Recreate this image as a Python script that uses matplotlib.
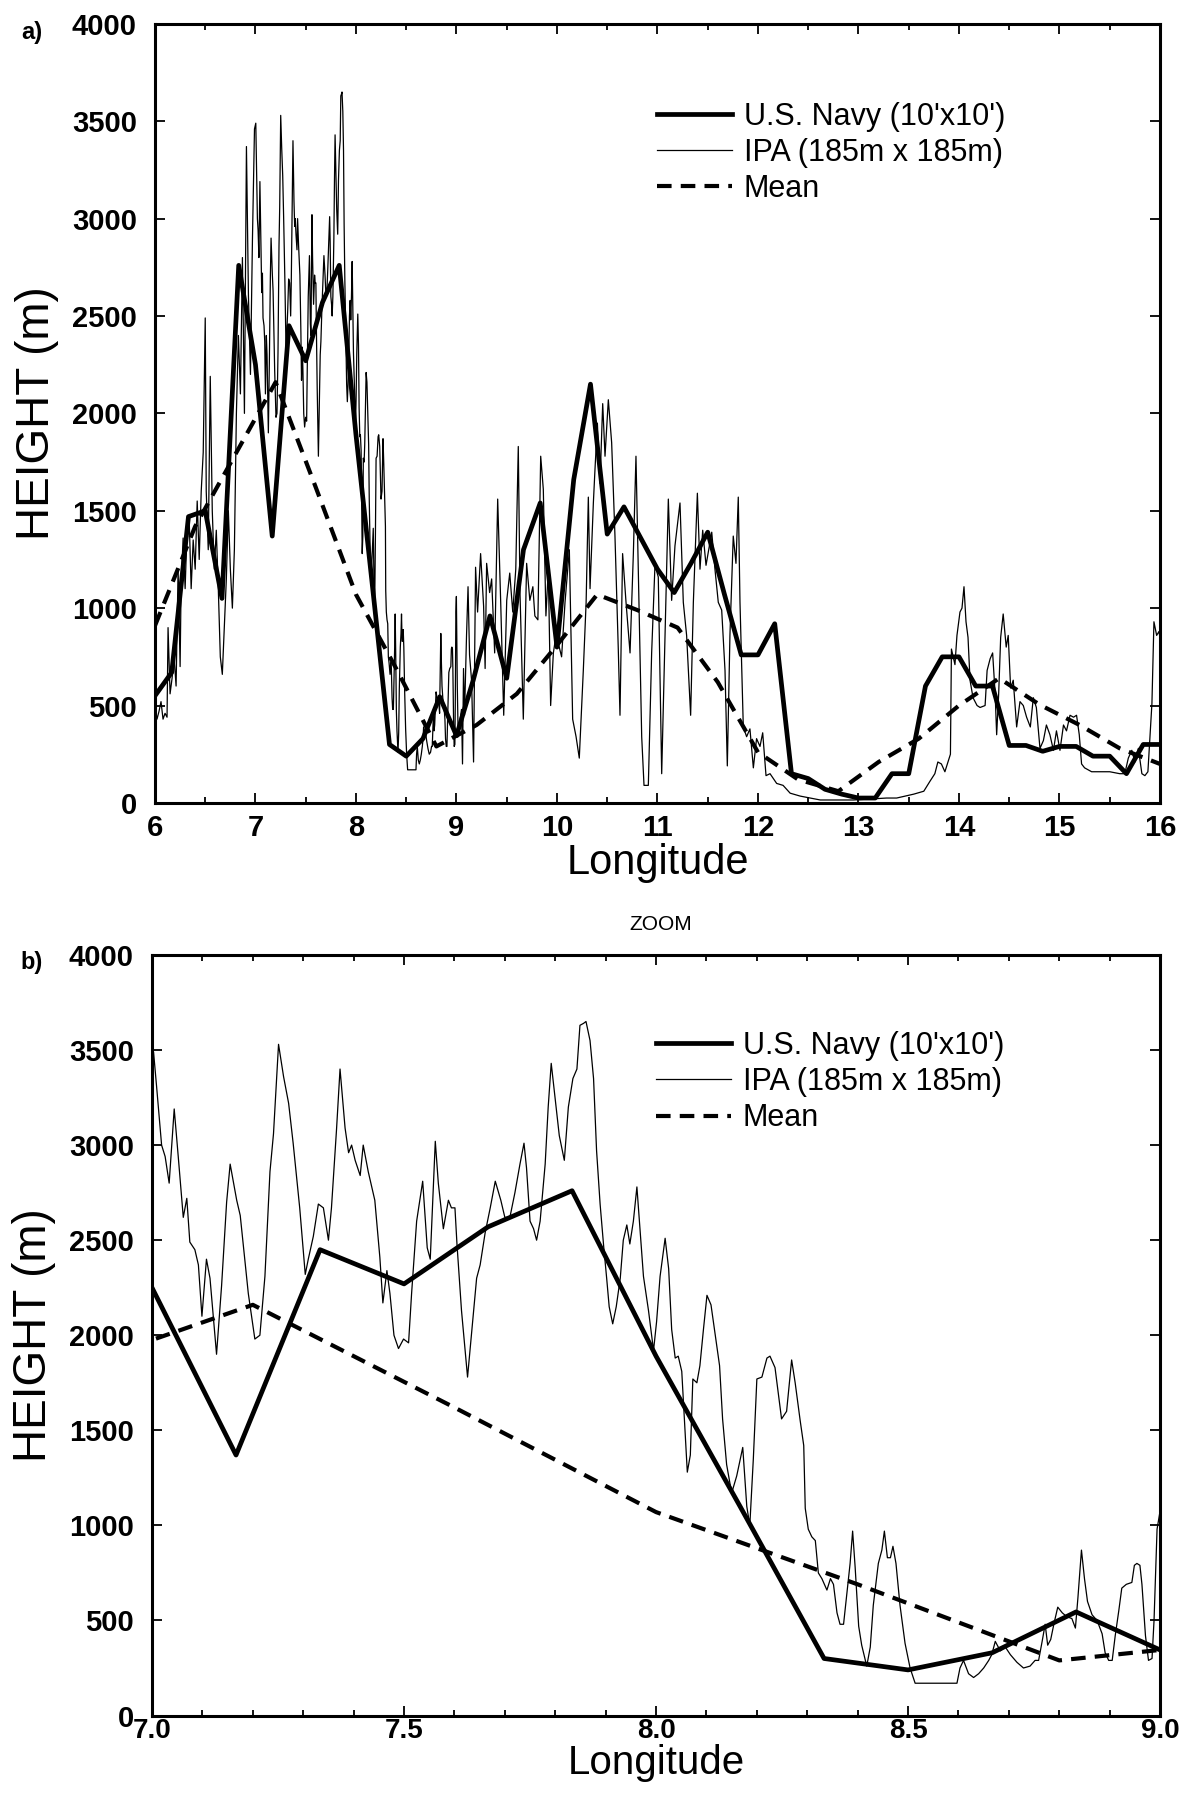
import numpy as np
import matplotlib
matplotlib.use("Agg")
import matplotlib.pyplot as plt
from matplotlib.ticker import MultipleLocator

plt.rcParams['font.family'] = ['Liberation Sans', 'DejaVu Sans']

# U.S. Navy 10'x10' grid, one value every 1/6 degree from 6E to 16E
navy_lon = np.linspace(6, 16, 61)
navy_height = [550, 670, 1470, 1500, 1050, 2760, 2250, 1370, 2450, 2270,
               2570, 2760, 1890, 1100, 300, 240, 330, 545, 345, 630,
               960, 640, 1300, 1540, 800, 1660, 2150, 1380, 1520, 1360,
               1200, 1080, 1230, 1390, 1070, 760, 760, 920, 150, 125,
               70, 45, 25, 25, 150, 150, 600, 750, 750, 600,
               600, 295, 295, 265, 290, 290, 240, 240, 150, 300,
               300]

# running mean, every 0.4 degree
mean_lon = np.linspace(6, 16, 26)
mean_height = [910, 1420, 1790, 2160, 1620, 1070, 690, 290, 400, 560,
               810, 1070, 990, 900, 620, 260, 120, 60, 210, 330,
               500, 640, 505, 400, 280, 200]

# IPA 185m x 185m profile, (longitude, height)
ipa_6_7 = [
    (6.00, 500), (6.02, 430), (6.04, 470), (6.06, 520), (6.08, 430),
    (6.10, 460), (6.12, 440), (6.13, 900), (6.15, 560), (6.17, 640),
    (6.19, 750), (6.21, 600), (6.23, 1200), (6.25, 700), (6.26, 1120),
    (6.28, 1360), (6.30, 1100), (6.32, 1420), (6.34, 1460), (6.36, 1100),
    (6.38, 1350), (6.40, 1200), (6.42, 1550), (6.44, 1250), (6.46, 1600),
    (6.48, 1800), (6.50, 2490), (6.51, 1600), (6.53, 1300), (6.55, 2190),
    (6.57, 1500), (6.59, 1200), (6.61, 1400), (6.63, 1100), (6.65, 750),
    (6.67, 660), (6.69, 900), (6.71, 1150), (6.73, 1500), (6.75, 1200),
    (6.77, 1000), (6.79, 1300), (6.81, 2000), (6.83, 2400), (6.85, 2100),
    (6.87, 2800), (6.89, 2000), (6.91, 3370), (6.93, 2600), (6.95, 2200),
    (6.97, 2900), (6.99, 3460),
]
ipa_7_8 = [
    (7.003, 3490), (7.009, 3310), (7.019, 3000), (7.026, 2940), (7.034, 2800),
    (7.044, 3190), (7.052, 2940), (7.062, 2620), (7.069, 2720), (7.075, 2490),
    (7.085, 2450), (7.092, 2370), (7.099, 2100), (7.108, 2400), (7.115, 2300),
    (7.128, 1900), (7.138, 2260), (7.148, 2700), (7.155, 2900), (7.168, 2710),
    (7.175, 2630), (7.191, 2220), (7.204, 1980), (7.214, 2000), (7.224, 2310),
    (7.234, 2860), (7.241, 3060), (7.251, 3530), (7.261, 3360), (7.271, 3220),
    (7.280, 3010), (7.293, 2670), (7.304, 2320), (7.310, 2400), (7.320, 2520),
    (7.330, 2690), (7.340, 2670), (7.350, 2500), (7.356, 2670), (7.366, 3080),
    (7.373, 3400), (7.383, 3090), (7.390, 2960), (7.396, 3000), (7.403, 2920),
    (7.413, 2840), (7.419, 3000), (7.429, 2860), (7.442, 2710), (7.452, 2410),
    (7.458, 2170), (7.466, 2340), (7.472, 2220), (7.480, 2000), (7.489, 1930),
    (7.499, 1980), (7.509, 1960), (7.515, 2220), (7.525, 2600), (7.537, 2810),
    (7.546, 2460), (7.552, 2400), (7.562, 3020), (7.568, 2800), (7.578, 2560),
    (7.588, 2710), (7.594, 2670), (7.601, 2670), (7.605, 2480), (7.614, 2130),
    (7.626, 1780), (7.638, 2130), (7.644, 2300), (7.651, 2370), (7.661, 2540),
    (7.671, 2670), (7.681, 2810), (7.692, 2710), (7.700, 2620), (7.710, 2620),
    (7.720, 2750), (7.730, 2900), (7.738, 3010), (7.743, 2880), (7.750, 2600),
    (7.757, 2560), (7.763, 2500), (7.770, 2600), (7.780, 2900), (7.786, 3200),
    (7.792, 3430), (7.800, 3240), (7.808, 3050), (7.818, 2920), (7.826, 3200),
    (7.835, 3350), (7.843, 3400), (7.849, 3630), (7.856, 3640), (7.861, 3650),
    (7.869, 3550), (7.876, 3350), (7.882, 2970), (7.889, 2690), (7.896, 2470),
    (7.902, 2300), (7.907, 2150), (7.914, 2060), (7.921, 2150), (7.929, 2300),
    (7.935, 2500), (7.942, 2580), (7.948, 2480), (7.955, 2600), (7.962, 2780),
    (7.968, 2560), (7.975, 2310), (7.985, 2130), (7.995, 1920),
]
ipa_8_9 = [
    (8.001, 2070), (8.008, 2310), (8.018, 2510), (8.025, 2350), (8.031, 2030),
    (8.038, 1880), (8.044, 1890), (8.051, 1810), (8.058, 1470), (8.062, 1280),
    (8.068, 1370), (8.073, 1770), (8.081, 1750), (8.087, 1840), (8.094, 2030),
    (8.101, 2210), (8.109, 2160), (8.117, 2010), (8.126, 1840), (8.132, 1560),
    (8.140, 1320), (8.150, 1170), (8.160, 1260), (8.172, 1410), (8.180, 1100),
    (8.186, 1000), (8.193, 1350), (8.200, 1770), (8.210, 1780), (8.220, 1880),
    (8.226, 1890), (8.236, 1830), (8.249, 1560), (8.259, 1600), (8.269, 1870),
    (8.276, 1750), (8.286, 1550), (8.293, 1420), (8.296, 1090), (8.302, 980),
    (8.309, 940), (8.316, 920), (8.322, 750), (8.329, 720), (8.339, 660),
    (8.346, 720), (8.352, 690), (8.359, 540), (8.365, 480), (8.372, 480),
    (8.379, 650), (8.385, 800), (8.390, 970), (8.395, 780), (8.402, 470),
    (8.408, 370), (8.418, 260), (8.425, 360), (8.431, 580), (8.441, 800),
    (8.448, 870), (8.453, 970), (8.459, 830), (8.465, 830), (8.470, 890),
    (8.476, 800), (8.484, 580), (8.494, 380), (8.504, 250), (8.514, 170),
    (8.550, 170), (8.597, 170), (8.603, 250), (8.610, 290), (8.620, 220),
    (8.630, 200), (8.640, 220), (8.650, 250), (8.660, 290), (8.666, 320),
    (8.673, 390), (8.683, 340), (8.693, 360), (8.703, 320), (8.716, 280),
    (8.729, 250), (8.742, 260), (8.752, 290), (8.759, 290), (8.766, 390),
    (8.772, 480), (8.777, 370), (8.783, 400), (8.790, 490), (8.797, 570),
    (8.806, 540), (8.815, 520), (8.825, 510), (8.832, 460), (8.837, 620),
    (8.844, 870), (8.850, 720), (8.856, 600), (8.865, 530), (8.875, 500),
    (8.885, 430), (8.891, 330), (8.898, 290), (8.905, 290), (8.911, 420),
    (8.918, 550), (8.924, 670), (8.933, 690), (8.944, 700), (8.949, 790),
    (8.954, 800), (8.960, 790), (8.964, 690), (8.971, 420), (8.977, 290),
    (8.984, 300), (8.988, 500), (8.994, 980), (8.999, 1060),
]
ipa_9_13 = [
    (9.008, 600), (9.017, 340), (9.033, 420), (9.050, 480), (9.060, 200),
    (9.070, 690), (9.080, 450), (9.100, 860), (9.115, 1110), (9.130, 760),
    (9.150, 630), (9.170, 210), (9.190, 1210), (9.210, 980), (9.240, 1280),
    (9.270, 1010), (9.285, 690), (9.300, 1230), (9.330, 1080), (9.350, 1150),
    (9.380, 770), (9.410, 1560), (9.440, 1030), (9.470, 450), (9.500, 1040),
    (9.530, 1180), (9.560, 980), (9.590, 1200), (9.615, 1830), (9.632, 1080),
    (9.665, 430), (9.698, 1230), (9.730, 1040), (9.760, 1110), (9.780, 960),
    (9.810, 940), (9.838, 1780), (9.864, 1610), (9.890, 960), (9.914, 1200),
    (9.937, 500), (9.964, 770), (9.990, 860), (10.013, 820), (10.046, 750),
    (10.080, 1030), (10.123, 1300), (10.156, 430), (10.190, 340), (10.222, 230),
    (10.262, 680), (10.290, 1030), (10.312, 1570), (10.329, 1100), (10.362, 1540),
    (10.378, 1710), (10.402, 1950), (10.428, 1640), (10.455, 2050), (10.478, 1780),
    (10.511, 2070), (10.544, 1850), (10.577, 1370), (10.610, 790), (10.627, 450),
    (10.653, 1280), (10.687, 1030), (10.727, 770), (10.760, 1280), (10.786, 1780),
    (10.809, 1200), (10.843, 340), (10.866, 90), (10.909, 90), (10.942, 770),
    (10.975, 1220), (11.008, 1160), (11.042, 150), (11.075, 860), (11.108, 1560),
    (11.141, 1040), (11.174, 1320), (11.224, 1540), (11.257, 1030), (11.290, 860),
    (11.330, 450), (11.357, 1030), (11.397, 1590), (11.423, 1200), (11.450, 1400),
    (11.483, 1220), (11.540, 1390), (11.572, 1200), (11.605, 1030), (11.639, 990),
    (11.672, 680), (11.695, 190), (11.721, 860), (11.754, 1370), (11.781, 1230),
    (11.804, 1570), (11.821, 1030), (11.854, 390), (11.887, 340), (11.920, 380),
    (11.954, 180), (11.986, 330), (12.020, 290), (12.047, 360), (12.080, 140),
    (12.120, 150), (12.186, 100), (12.250, 90), (12.320, 50), (12.420, 35),
    (12.620, 15), (12.950, 15), (13.280, 25),
]
ipa_13_16 = [
    (13.380, 25), (13.550, 45), (13.650, 60), (13.710, 110), (13.760, 150),
    (13.790, 210), (13.825, 200), (13.860, 160), (13.890, 210), (13.915, 250),
    (13.925, 790), (13.960, 710), (13.980, 860), (14.010, 980), (14.030, 1000),
    (14.050, 1110), (14.070, 930), (14.090, 850), (14.110, 630), (14.140, 540),
    (14.180, 500), (14.210, 490), (14.260, 500), (14.280, 680), (14.310, 740),
    (14.335, 770), (14.360, 560), (14.375, 350), (14.395, 560), (14.415, 850),
    (14.440, 970), (14.470, 800), (14.490, 860), (14.514, 590), (14.540, 630),
    (14.574, 390), (14.607, 520), (14.640, 500), (14.673, 440), (14.710, 390),
    (14.740, 540), (14.770, 490), (14.806, 280), (14.840, 320), (14.870, 400),
    (14.905, 350), (14.940, 270), (14.970, 370), (15.005, 270), (15.040, 400),
    (15.070, 370), (15.105, 450), (15.140, 440), (15.170, 450), (15.197, 350),
    (15.220, 200), (15.250, 180), (15.320, 160), (15.400, 160), (15.500, 160),
    (15.600, 150), (15.650, 150), (15.685, 230), (15.720, 270), (15.750, 210),
    (15.785, 280), (15.820, 150), (15.850, 140), (15.880, 160), (15.920, 510),
    (15.940, 930), (15.967, 860), (15.990, 880), (16.000, 850),
]

legend_labels = ["U.S. Navy (10'x10')", "IPA (185m x 185m)", "Mean"]

ipa_points = ipa_6_7 + ipa_7_8 + ipa_8_9 + ipa_9_13 + ipa_13_16
ipa_lon = [p[0] for p in ipa_points]
ipa_height = [p[1] for p in ipa_points]


def draw_panel(ax, xlim, major, minor, fmt, xsize, xpad, xlabelsize, xlabelpad):
    ipa, = ax.plot(ipa_lon, ipa_height, color='black', lw=0.9)
    mean, = ax.plot(mean_lon, mean_height, color='black', lw=3.0, dashes=(3.5, 2.2))
    navy, = ax.plot(navy_lon, navy_height, color='black', lw=3.4)

    ax.set_xlim(*xlim)
    ax.set_ylim(0, 4000)
    ax.xaxis.set_major_locator(MultipleLocator(major))
    ax.xaxis.set_minor_locator(MultipleLocator(minor))
    ax.yaxis.set_major_locator(MultipleLocator(500))
    ax.xaxis.set_major_formatter(fmt)

    ax.tick_params(which='both', direction='in', top=True, right=True, width=1.3)
    ax.tick_params(which='major', length=7)
    ax.tick_params(which='minor', length=4)
    ax.tick_params(axis='x', pad=xpad, labelsize=xsize)
    ax.tick_params(axis='y', pad=13, labelsize=21)
    for lab in ax.get_xticklabels() + ax.get_yticklabels():
        lab.set_fontweight('bold')
    for sp in ax.spines.values():
        sp.set_linewidth(2.2)

    ax.set_xlabel("Longitude", fontsize=xlabelsize, labelpad=xlabelpad)
    ax.set_ylabel("HEIGHT (m)", fontsize=33, labelpad=9)

    ax.legend([navy, ipa, mean], legend_labels, loc='upper left',
              bbox_to_anchor=(0.5, 0.9), frameon=False, fontsize=22,
              handlelength=2.45, handletextpad=0.38, labelspacing=0.2,
              borderpad=0, borderaxespad=0)


fig = plt.figure(figsize=(11.84, 17.93), dpi=100)
ax_a = fig.add_axes([0.1309, 0.5522, 0.8488, 0.4345])
ax_b = fig.add_axes([0.1284, 0.0432, 0.8514, 0.4242])

draw_panel(ax_a, (6, 16), 1, 0.5, plt.FormatStrFormatter('%d'), 21, 8, 30, 1)
draw_panel(ax_b, (7, 9), 0.5, 0.1, plt.FormatStrFormatter('%.1f'), 20, 2, 29, 0)

fig.text(0.027, 0.982, "a)", fontsize=17, fontweight='bold', ha='center', va='center')
fig.text(0.027, 0.463, "b)", fontsize=17, fontweight='bold', ha='center', va='center')
fig.text(661 / 1184, 1 - 924 / 1793, "ZOOM", fontsize=15, ha='center', va='center')

fig.savefig("out.png", dpi=100)
print("Saved out.png")
